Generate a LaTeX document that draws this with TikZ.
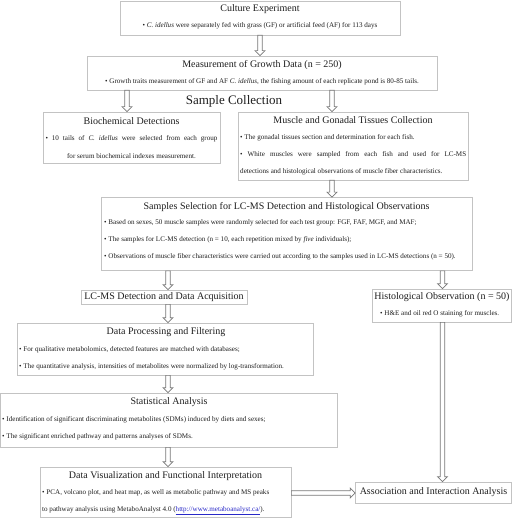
\documentclass[tikz,border=0pt]{standalone}
\usepackage{fontspec}
\setmainfont{Liberation Serif}
\usetikzlibrary{calc}
\definecolor{boxgray}{RGB}{195,195,195}
\definecolor{arrowgray}{RGB}{120,120,120}
\definecolor{txt}{RGB}{30,30,30}
\definecolor{linkblue}{RGB}{40,40,200}
\newcommand{\ci}{\textit{C. idellus}}
\begin{document}
\begin{tikzpicture}[x=1pt,y=-1pt,
  box/.style={draw=boxgray, line width=0.7pt, fill=white, inner sep=0pt},
  ttl/.style={font=\fontsize{10}{11}\selectfont, text=txt, inner sep=0pt},
  big/.style={font=\fontsize{13}{14}\selectfont, text=txt, inner sep=0pt},
  bd/.style={font=\fontsize{7.1}{8}\selectfont, text=txt, inner sep=0pt},
  bdl/.style={bd, anchor=west},
  downarrow/.style={draw=arrowgray, line width=0.7pt, fill=white,
    to path={let \p1=(\tikztostart), \p2=(\tikztotarget) in
      (\x1-2.2pt,\y1) -- (\x1-2.2pt,\y2+5pt) -- (\x1-5pt,\y2+5pt) -- (\x1,\y2)
      -- (\x1+5pt,\y2+5pt) -- (\x1+2.2pt,\y2+5pt) -- (\x1+2.2pt,\y1) -- cycle}},
  rightarrow/.style={draw=arrowgray, line width=0.7pt, fill=white,
    to path={let \p1=(\tikztostart), \p2=(\tikztotarget) in
      (\x1,\y1+2.2pt) -- (\x2-5pt,\y1+2.2pt) -- (\x2-5pt,\y1+5pt) -- (\x2,\y1)
      -- (\x2-5pt,\y1-5pt) -- (\x2-5pt,\y1-2.2pt) -- (\x1,\y1-2.2pt) -- cycle}}
]
\useasboundingbox (0,0) rectangle (512,518);

% boxes
\node[box, minimum width=280, minimum height=34] (b1) at (260,18) {};
\node[box, minimum width=350, minimum height=34] (b2) at (262,73) {};
\node[box, minimum width=177, minimum height=51] (bio) at (131.5,137.5) {};
\node[box, minimum width=230, minimum height=68] (mus) at (353,146) {};
\node[box, minimum width=371, minimum height=73] (sam) at (286.5,234) {};
\node[box, minimum width=166, minimum height=14] (lc) at (164,297) {};
\node[box, minimum width=139, minimum height=33] (his) at (442,305.5) {};
\node[box, minimum width=296, minimum height=52] (dp) at (165,349) {};
\node[box, minimum width=337, minimum height=54] (sta) at (169,420) {};
\node[box, minimum width=251, minimum height=50] (dv) at (165.5,492) {};
\node[box, minimum width=156, minimum height=21] (as) at (433.5,492.5) {};

% texts
\node[ttl] (t1) at (260,9) {Culture Experiment};
\node[bd] (t1a) at (260,25.5) {• \ci{} were separately fed with grass (GF) or artificial feed (AF) for 113 days};

\node[ttl] (t2) at (262,65) {Measurement of Growth Data (n = 250)};
\node[bd] (t2a) at (262,81.5) {• Growth traits measurement of GF and AF \ci, the fishing amount of each replicate pond is 80-85 tails.};

\node[big] (sc) at (234,101) {Sample Collection};

\node[ttl] (t3) at (131.5,121) {Biochemical Detections};
\node[bd] (t3a) at (131.5,139) {\makebox[172pt][s]{• 10 tails of \ci{} were selected from each group}};
\node[bd] (t3b) at (131.5,156) {for serum biochemical indexes measurement.};

\node[ttl] (t4) at (353,120.5) {Muscle and Gonadal Tissues Collection};
\node[bdl] (t4a) at (240,138) {• The gonadal tissues section and determination for each fish.};
\node[bdl] (t4b) at (240,155) {\makebox[226pt][s]{• White muscles were sampled from each fish and used for LC-MS}};
\node[bdl] (t4c) at (240,172) {detections and histological observations of muscle fiber characteristics.};

\node[ttl] (t5) at (286.5,207) {Samples Selection for LC-MS Detection and Histological Observations};
\node[bdl] (t5a) at (104,223) {• Based on sexes, 50 muscle samples were randomly selected for each test group: FGF, FAF, MGF, and MAF;};
\node[bdl] (t5b) at (104,240) {• The samples for LC-MS detection (n = 10, each repetition mixed by \textit{five} individuals);};
\node[bdl] (t5c) at (104,257) {• Observations of muscle fiber characteristics were carried out according to the samples used in LC-MS detections (n = 50).};

\node[ttl] (t6) at (164,297) {LC-MS Detection and Data Acquisition};

\node[ttl] (t7) at (442,297) {Histological Observation (n = 50)};
\node[bdl] (t7a) at (380,313.5) {• H\&E and oil red O staining for muscles.};

\node[ttl] (t8) at (166,332) {Data Processing and Filtering};
\node[bdl] (t8a) at (19,350) {• For qualitative metabolomics, detected features are matched with databases;};
\node[bdl] (t8b) at (19,367) {• The quantitative analysis, intensities of metabolites were normalized by log-transformation.};

\node[ttl] (t9) at (169,402) {Statistical Analysis};
\node[bdl] (t9a) at (2,420) {• Identification of significant discriminating metabolites (SDMs) induced by diets and sexes;};
\node[bdl] (t9b) at (2,437) {• The significant enriched pathway and patterns analyses of SDMs.};

\node[ttl] (t10) at (165.5,476) {Data Visualization and Functional Interpretation};
\node[bdl] (t10a) at (42,493) {• PCA, volcano plot, and heat map, as well as metabolic pathway and MS peaks};
\node[bdl] (t10b) at (42,510.5) {to pathway analysis using MetaboAnalyst 4.0 (\textcolor{linkblue}{\underline{http://www.metaboanalyst.ca/}}).};

\node[ttl] (t11) at (433.5,492.5) {Association and Interaction Analysis};

% arrow x positions
\coordinate (xa) at (260,0);
\coordinate (xl) at (127,0);
\coordinate (xr) at (332,0);
\coordinate (xm) at (168,0);
\coordinate (xh) at (442.5,0);

\draw[downarrow] (b1.south -| xa) to (b2.north -| xa);
\draw[downarrow] (b2.south -| xl) to (bio.north -| xl);
\draw[downarrow] (b2.south -| xr) to (mus.north -| xr);
\draw[downarrow] (mus.south -| xr) to (sam.north -| xr);
\draw[downarrow] (sam.south -| xm) to (lc.north -| xm);
\draw[downarrow] (sam.south -| xh) to (his.north -| xh);
\draw[downarrow] (lc.south -| xm) to (dp.north -| xm);
\draw[downarrow] (dp.south -| xm) to (sta.north -| xm);
\draw[downarrow] (sta.south -| xm) to (dv.north -| xm);
\draw[downarrow] (his.south -| xh) to (as.north -| xh);
\draw[rightarrow] (dv.east |- t10a) to (as.west |- t10a);
\end{tikzpicture}
\end{document}
